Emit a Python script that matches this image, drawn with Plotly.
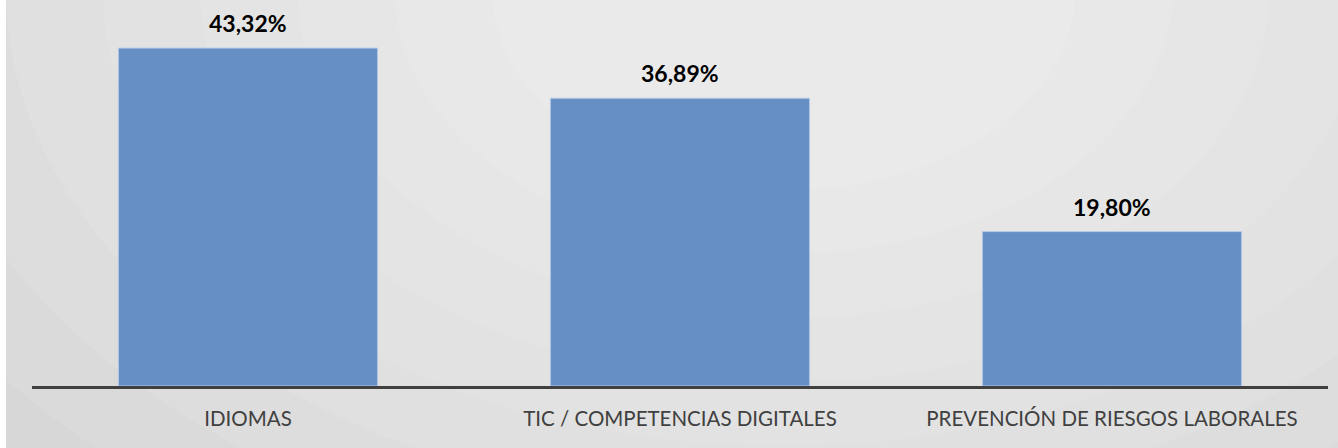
import plotly.graph_objects as go

categories = ["IDIOMAS", "TIC / COMPETENCIAS DIGITALES", "PREVENCIÓN DE RIESGOS LABORALES"]
values = [43.32, 36.89, 19.80]
labels = ["43,32%", "36,89%", "19,80%"]

fig = go.Figure()

fig.add_trace(go.Bar(
    x=categories,
    y=values,
    marker=dict(color="#6690C5", line=dict(color="#B4CBE6", width=1)),
    hoverinfo="skip",
))

for cat, val, lab in zip(categories, values, labels):
    fig.add_annotation(
        x=cat, y=val, text=f"<b>{lab}</b>",
        showarrow=False, yanchor="bottom", yshift=9,
        font=dict(family="Lato, Open Sans, sans-serif", size=23, color="#000000"),
    )

# soft radial background (paper coords extend into the margins)
shapes = []
left, right = -32 / 1296, 1 + 10 / 1296
bottom, top = -62 / 376, 1 + 10 / 376
shapes.append(dict(type="rect", xref="paper", yref="paper", x0=left, x1=-26 / 1296,
                   y0=bottom, y1=top, fillcolor="white", line_width=0, layer="below"))
for i in range(12):
    rx = 1.05 - i * 0.075
    ry = 2.4 - i * 0.17
    shapes.append(dict(
        type="circle", xref="paper", yref="paper",
        x0=0.58 - rx, x1=0.58 + rx, y0=1.05 - ry, y1=1.05 + ry,
        fillcolor="white", opacity=0.09, line_width=0, layer="below",
    ))

fig.update_layout(
    width=1338, height=448,
    margin=dict(l=32, r=10, t=10, b=62),
    paper_bgcolor="#c6c6c6",
    plot_bgcolor="rgba(0,0,0,0)",
    bargap=0.4,
    showlegend=False,
    shapes=shapes,
    xaxis=dict(
        showline=True, linecolor="#404040", linewidth=3,
        ticks="", showgrid=False, ticklabelstandoff=12,
        tickfont=dict(family="Lato, Open Sans, sans-serif", size=20.5, color="#404040"),
    ),
    yaxis=dict(
        range=[0, 376 / 7.8], visible=False, showgrid=False, zeroline=False,
    ),
)

fig.write_html("out.html", config={"displayModeBar": False},
               post_script="document.body.style.margin='0';")
